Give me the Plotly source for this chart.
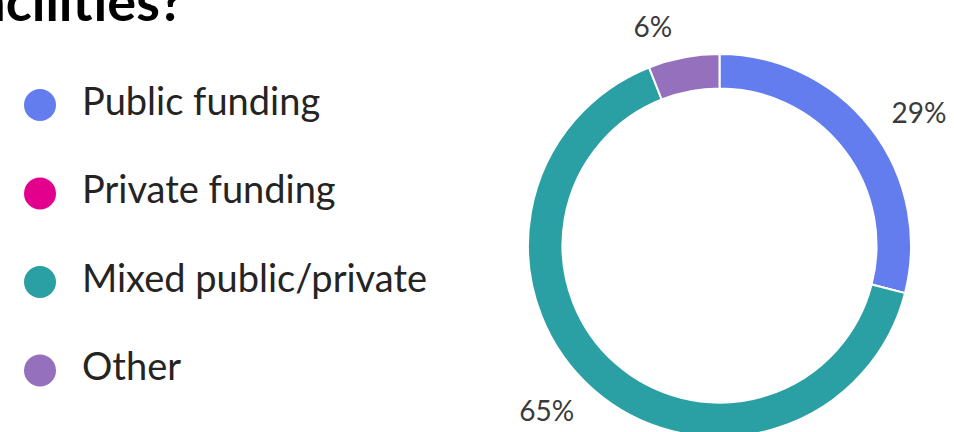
import plotly.graph_objects as go

categories = ["Public funding", "Private funding", "Mixed public/private", "Other"]
values = [29, 0, 65, 6]
pct_labels = ["29%", "", "65%", "6%"]
colors = ["#637DEE", "#E3008C", "#2BA0A4", "#9470BD"]
title_text = "facilities?"

W, H = 954, 460

# donut geometry (pixels from top-left)
cx, cy, r = 719.5, 245.5, 191.5
label_pull = 0.08

fig = go.Figure()

# visible ring
fig.add_trace(go.Pie(
    labels=categories,
    values=values,
    textinfo="none",
    sort=False,
    direction="clockwise",
    rotation=0,
    hole=0.82,
    marker=dict(colors=colors, line=dict(color="white", width=2)),
    showlegend=False,
    domain=dict(x=[(cx - r) / W, (cx + r) / W], y=[(H - cy - r) / H, (H - cy + r) / H]),
    hoverinfo="label+percent",
))

# same data, transparent, slightly pulled so the outside labels sit a bit farther out
R = r * (1 + label_pull)
fig.add_trace(go.Pie(
    labels=categories,
    values=values,
    text=pct_labels,
    textinfo="text",
    textposition="outside",
    sort=False,
    direction="clockwise",
    rotation=0,
    hole=0.82,
    pull=label_pull,
    marker=dict(colors=["rgba(0,0,0,0)"] * len(categories), line=dict(width=0)),
    outsidetextfont=dict(family="Lato", size=28, color="#3b3b3b"),
    showlegend=False,
    hoverinfo="skip",
    automargin=False,
    domain=dict(x=[(cx - R) / W, (cx + R) / W], y=[(H - cy - R) / H, (H - cy + R) / H]),
))

# legend drawn as a small categorical chart
fig.add_trace(go.Scatter(
    x=[0] * len(categories), y=categories,
    mode="markers",
    marker=dict(size=32, color=colors),
    showlegend=False, hoverinfo="skip",
    xaxis="x", yaxis="y",
))
fig.add_trace(go.Scatter(
    x=[1] * len(categories), y=categories,
    mode="text", text=categories, textposition="middle right",
    textfont=dict(family="Lato", size=38, color="#252423"),
    showlegend=False, hoverinfo="skip",
    xaxis="x", yaxis="y",
))

px_per_unit_x = 42.0
x0 = -40 / px_per_unit_x
xw = 0.5 * W
top_px, bot_px = 105, 370.5
row_px = (bot_px - top_px) / (len(categories) - 1)
y_hi = (len(categories) - 1) + top_px / row_px
y_lo = 0 - (H - bot_px) / row_px

fig.update_layout(
    width=W, height=H,
    margin=dict(l=0, r=0, t=0, b=0, autoexpand=False),
    paper_bgcolor="white", plot_bgcolor="white",
    showlegend=False,
    xaxis=dict(domain=[0, 0.5], range=[x0, x0 + xw / px_per_unit_x], visible=False, fixedrange=True),
    yaxis=dict(domain=[0, 1], type="category", categoryorder="array",
               categoryarray=categories[::-1], range=[y_lo, y_hi], visible=False, fixedrange=True),
    annotations=[dict(
        text=title_text, xref="paper", yref="paper",
        x=186 / W, y=1 - 35 / H, xanchor="right", yanchor="bottom",
        showarrow=False, font=dict(family="Lato", size=54, color="black", weight="bold"),
    )],
)

fig.write_html("out.html", config={"displayModeBar": False},
               post_script="document.body.style.margin='0';")
